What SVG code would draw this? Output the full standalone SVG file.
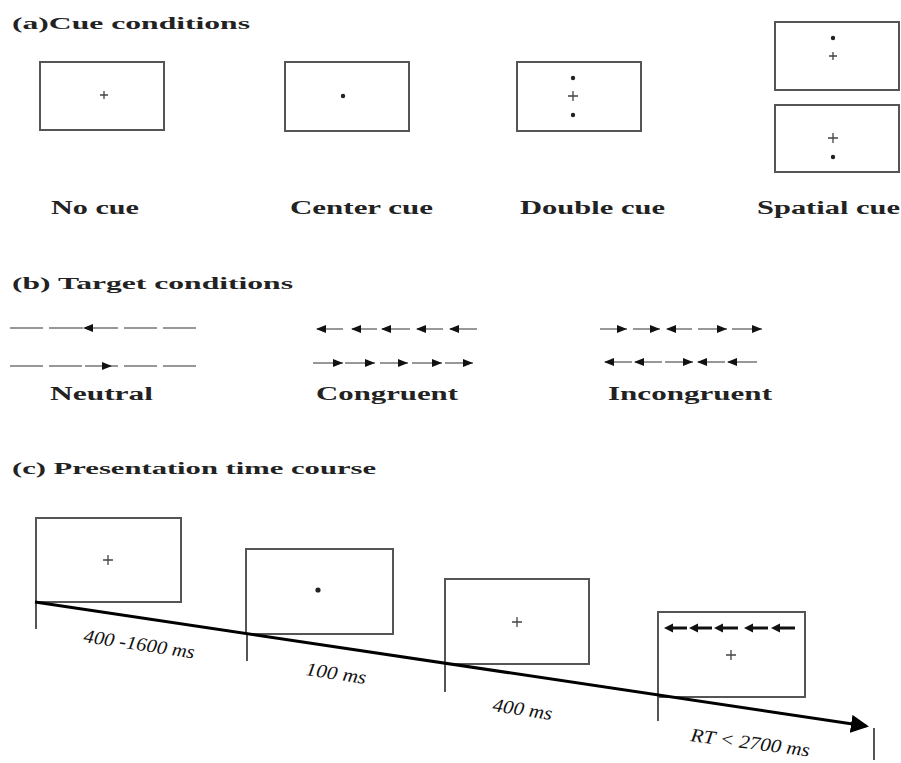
<svg xmlns="http://www.w3.org/2000/svg" width="901" height="763" viewBox="0 0 901 763">
<style>
.bg{fill:#fff}
.box{fill:#fff;stroke:#555;stroke-width:2}
.plus{stroke:#444;stroke-width:1.3}
.dot{fill:#222}
.t{font-family:"Liberation Serif","Times New Roman",serif;font-weight:bold;fill:#222;font-size:18px}
.h{font-size:17px}
.it{font-family:"Liberation Serif","Times New Roman",serif;font-style:italic;fill:#111;font-size:19px}
.seg{stroke:#777;stroke-width:1.6}
.tick{stroke:#555;stroke-width:2}
.tl{stroke:#000;stroke-width:3}
.fl{stroke:#111;stroke-width:3.2}
</style>
<defs>
<marker id="ah" markerWidth="6" markerHeight="6" refX="5" refY="3" orient="auto" markerUnits="strokeWidth">
<path d="M0,0 L6,3 L0,6 z" fill="#000"/>
</marker>
<path id="L" d="M0,0 L10,-4 L10,4 z" fill="#111"/>
<path id="R" d="M0,0 L-10,-4 L-10,4 z" fill="#111"/>
</defs>
<rect class="bg" width="901" height="763"/>

<!-- (a) Cue conditions -->
<text class="t h" x="12" y="29" textLength="238" lengthAdjust="spacingAndGlyphs">(a)Cue conditions</text>
<g id="nocue">
<rect class="box" x="40" y="62" width="124" height="68"/>
<path class="plus" d="M100,95 h8 M104,91 v8"/>
<text class="t" x="51" y="214" textLength="88" lengthAdjust="spacingAndGlyphs">No cue</text>
</g>
<g id="centercue">
<rect class="box" x="285" y="62" width="124" height="69"/>
<circle class="dot" cx="343" cy="96" r="2.2"/>
<text class="t" x="290" y="214" textLength="143" lengthAdjust="spacingAndGlyphs">Center cue</text>
</g>
<g id="doublecue">
<rect class="box" x="517" y="62" width="124" height="69"/>
<circle class="dot" cx="573" cy="78" r="2.2"/>
<path class="plus" d="M568,96 h10 M573,91 v10"/>
<circle class="dot" cx="573" cy="115" r="2.2"/>
<text class="t" x="520" y="214" textLength="145" lengthAdjust="spacingAndGlyphs">Double cue</text>
</g>
<g id="spatialcue">
<rect class="box" x="775" y="22" width="124" height="68"/>
<circle class="dot" cx="833" cy="38" r="2.2"/>
<path class="plus" d="M829,56 h8 M833,52 v8"/>
<rect class="box" x="775" y="105" width="124" height="67"/>
<path class="plus" d="M828,138 h10 M833,133 v10"/>
<circle class="dot" cx="833" cy="157" r="2.2"/>
<text class="t" x="757" y="214" textLength="143" lengthAdjust="spacingAndGlyphs">Spatial cue</text>
</g>

<!-- (b) Target conditions -->
<text class="t h" x="12" y="289" textLength="281" lengthAdjust="spacingAndGlyphs">(b)  Target conditions</text>
<g id="neutral">
<path class="seg" d="M10,328 H43 M49,328 H83 M85,328 H118 M124,328 H157 M163,328 H196"/>
<use href="#L" x="83" y="328"/>
<path class="seg" d="M10,366 H43 M49,366 H82 M85,366 H118 M124,366 H157 M163,366 H196"/>
<use href="#R" x="112" y="366"/>
<text class="t" x="50" y="400" textLength="103" lengthAdjust="spacingAndGlyphs">Neutral</text>
</g>
<g id="congruent">
<path class="seg" d="M317,329 H343 M352,329 H377 M382,329 H410 M417,329 H443 M450,329 H477"/>
<use href="#L" x="316" y="329"/><use href="#L" x="351" y="329"/><use href="#L" x="381" y="329"/><use href="#L" x="416" y="329"/><use href="#L" x="449" y="329"/>
<path class="seg" d="M313,363 H343 M345,363 H375 M380,363 H408 M412,363 H442 M445,363 H473"/>
<use href="#R" x="343" y="363"/><use href="#R" x="375" y="363"/><use href="#R" x="408" y="363"/><use href="#R" x="442" y="363"/><use href="#R" x="473" y="363"/>
<text class="t" x="316" y="400" textLength="142" lengthAdjust="spacingAndGlyphs">Congruent</text>
</g>
<g id="incongruent">
<path class="seg" d="M600,329 H627 M633,329 H660 M667,329 H692 M698,329 H727 M732,329 H762"/>
<use href="#R" x="627" y="329"/><use href="#R" x="660" y="329"/><use href="#L" x="666" y="329"/><use href="#R" x="727" y="329"/><use href="#R" x="762" y="329"/>
<path class="seg" d="M605,362 H632 M635,362 H662 M665,362 H693 M698,362 H725 M728,362 H757"/>
<use href="#L" x="604" y="362"/><use href="#L" x="634" y="362"/><use href="#R" x="693" y="362"/><use href="#L" x="697" y="362"/><use href="#L" x="727" y="362"/>
<text class="t" x="608" y="400" textLength="164" lengthAdjust="spacingAndGlyphs">Incongruent</text>
</g>

<!-- (c) Presentation time course -->
<text class="t h" x="12" y="474" textLength="364" lengthAdjust="spacingAndGlyphs">(c) Presentation time course</text>
<g id="frame1">
<rect class="box" x="36" y="518" width="145" height="84"/>
<path class="plus" d="M103,560 h10 M108,555 v10"/>
</g>
<g id="frame2">
<rect class="box" x="246" y="549" width="147" height="85"/>
<circle class="dot" cx="318" cy="590" r="2.6"/>
</g>
<g id="frame3">
<rect class="box" x="445" y="579" width="144" height="85"/>
<path class="plus" d="M512,622 h10 M517,617 v10"/>
</g>
<g id="frame4">
<rect class="box" x="658" y="612" width="147" height="85"/>
<path class="fl" d="M668,628 H687 M693,628 H712 M718,628 H738 M748,628 H768 M775,628 H795"/>
<path d="M664,628 l9,-4.5 v9 z" fill="#111"/><path d="M689,628 l9,-4.5 v9 z" fill="#111"/><path d="M714,628 l9,-4.5 v9 z" fill="#111"/><path d="M744,628 l9,-4.5 v9 z" fill="#111"/><path d="M771,628 l9,-4.5 v9 z" fill="#111"/>
<path class="plus" d="M726,655 h10 M731,650 v10"/>
</g>
<g id="connectors">
<path class="tick" d="M36,602 V629 M247,634 V661 M445,664 V692 M658,697 V721 M874,728 V760"/>
<line class="tl" x1="35" y1="602" x2="866" y2="726" marker-end="url(#ah)"/>
</g>
<g id="durations">
<text class="it" transform="translate(83,642) rotate(8.5)" textLength="112" lengthAdjust="spacingAndGlyphs">400 -1600 ms</text>
<text class="it" transform="translate(305,675) rotate(8.5)" textLength="61" lengthAdjust="spacingAndGlyphs">100 ms</text>
<text class="it" transform="translate(492,711) rotate(8.5)" textLength="60" lengthAdjust="spacingAndGlyphs">400 ms</text>
<text class="it" transform="translate(690,741) rotate(7.5)" textLength="120" lengthAdjust="spacingAndGlyphs">RT &lt; 2700 ms</text>
</g>
</svg>
